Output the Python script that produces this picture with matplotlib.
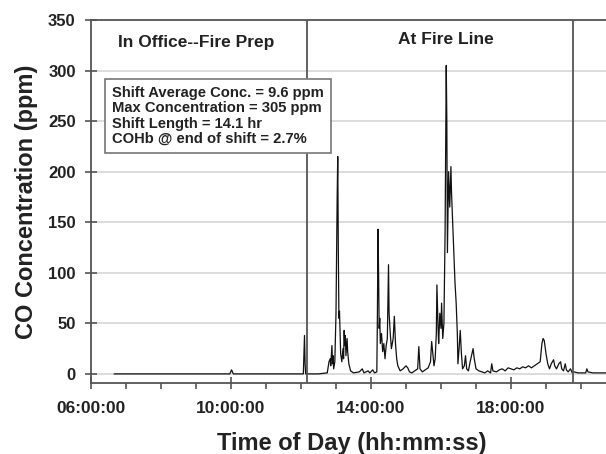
import pandas as pd
import matplotlib.pyplot as plt
import matplotlib.dates as mdates
from matplotlib.ticker import MultipleLocator

plt.rcParams['font.family'] = ['Liberation Sans', 'DejaVu Sans']
plt.rcParams['font.weight'] = 'bold'

# CO readings (time of day, ppm)
times = [
    "06:40", "07:30", "08:30", "09:30", "09:58", "10:01", "10:04", "11:00",
    "12:00", "12:04", "12:05", "12:06", "12:07", "12:08", "12:30", "12:45",
    "12:48", "12:50", "12:51", "12:53", "12:54", "12:55", "12:56", "12:58",
    "13:00", "13:02", "13:03", "13:04", "13:05", "13:06", "13:07", "13:08",
    "13:10", "13:12", "13:13", "13:14", "13:15", "13:16", "13:17", "13:19",
    "13:20", "13:22", "13:25", "13:30", "13:40", "13:45", "13:48", "13:55",
    "13:58", "14:03", "14:06", "14:10", "14:11", "14:12", "14:13", "14:14",
    "14:15", "14:16", "14:18", "14:20", "14:22", "14:24", "14:26", "14:28",
    "14:30", "14:31", "14:33", "14:35", "14:38", "14:40", "14:42", "14:44",
    "14:46", "14:50", "14:55", "15:00", "15:03", "15:06", "15:10", "15:15",
    "15:20", "15:22", "15:24", "15:28", "15:33", "15:38", "15:42", "15:44",
    "15:46", "15:48", "15:50", "15:52", "15:53", "15:55", "15:56", "15:58",
    "16:00", "16:01", "16:03", "16:05", "16:07", "16:09", "16:10", "16:11",
    "16:13", "16:15", "16:17", "16:18", "16:20", "16:22", "16:24", "16:26",
    "16:28", "16:29", "16:31", "16:33", "16:35", "16:37", "16:40", "16:42",
    "16:44", "16:47", "16:50", "16:55", "16:57", "17:00", "17:05", "17:10",
    "17:15", "17:20", "17:25", "17:27", "17:29", "17:35", "17:40", "17:45",
    "17:50", "17:55", "18:00", "18:05", "18:10", "18:15", "18:20", "18:25",
    "18:30", "18:35", "18:40", "18:45", "18:50", "18:53", "18:55", "18:57",
    "19:00", "19:03", "19:06", "19:09", "19:13", "19:15", "19:18", "19:22",
    "19:25", "19:27", "19:30", "19:33", "19:35", "19:38", "19:42", "19:45",
    "19:48", "19:55", "20:00", "20:08", "20:10", "20:12", "20:20", "20:30",
    "20:43",
]
co_ppm = [
    0, 0, 0, 0, 0, 4, 0, 0,
    0, 0, 20, 38, 10, 0, 0, 1,
    12, 15, 8, 28, 10, 18, 5, 12,
    60, 175, 215, 120, 55, 62, 40, 20,
    12, 25, 15, 43, 28, 38, 18, 35,
    22, 10, 3, 1, 2, 5, 1, 3,
    1, 4, 1, 2, 60, 143, 100, 45,
    55, 30, 40, 22, 30, 15, 28, 35,
    108, 60, 40, 25, 35, 57, 30, 15,
    8, 3, 5, 8, 6, 2, 1, 3,
    5, 27, 5, 2, 4, 6, 12, 32,
    20, 8, 15, 40, 88, 45, 30, 60,
    45, 70, 35, 50, 140, 305, 250, 120,
    200, 165, 205, 180, 150, 120, 90, 70,
    40, 10, 25, 43, 20, 5, 8, 18,
    5, 3, 12, 25, 15, 5, 3, 2,
    1, 3, 1, 10, 3, 2, 4, 5,
    3, 6, 5, 4, 6, 5, 7, 6,
    8, 6, 8, 10, 12, 30, 35, 33,
    20, 10, 5, 10, 14, 8, 5, 10,
    12, 5, 3, 10, 4, 2, 5, 1,
    2, 1, 1, 1, 5, 2, 1, 1,
    1,
]

phase_marks = ["12:10", "19:46"]
phase_labels = ["In Office--Fire Prep", "At Fire Line"]
stats_text = ("Shift Average Conc. = 9.6 ppm\n"
              "Max Concentration = 305 ppm\n"
              "Shift Length = 14.1 hr\n"
              "COHb @ end of shift = 2.7%")

day = "2000-01-01 "
t = pd.to_datetime([day + s for s in times])
marks = pd.to_datetime([day + s for s in phase_marks])

fig = plt.figure(figsize=(6.06, 4.54), dpi=100)
ax = fig.add_axes([91 / 606, 71 / 454, 525 / 606, 363 / 454])

ax.plot(t, co_ppm, color='#111111', lw=0.9, zorder=3)
for m in marks:
    ax.axvline(m, color='#555555', lw=1.3, zorder=4)

ax.set_xlim(pd.Timestamp(day + "06:00"), pd.Timestamp(day + "21:00"))
ax.set_ylim(-9, 350)
ax.yaxis.set_major_locator(MultipleLocator(50))
ax.grid(axis='y', color='#d9d9d9', lw=1.3, zorder=0)
ax.set_axisbelow(True)

ax.xaxis.set_major_locator(mdates.HourLocator(byhour=[6, 10, 14, 18]))
ax.xaxis.set_minor_locator(mdates.HourLocator(interval=1))
ax.xaxis.set_major_formatter(mdates.DateFormatter('%H:%M:%S'))

for side in ['left', 'bottom', 'top', 'right']:
    ax.spines[side].set_color('#555555')
    ax.spines[side].set_linewidth(1.3)

ax.tick_params(axis='both', which='major', direction='inout', length=8,
               width=1.2, color='#555555', labelcolor='#222222')
ax.tick_params(axis='x', which='major', pad=9, labelsize=12.5)
ax.tick_params(axis='y', which='major', pad=7, labelsize=12)
ax.tick_params(axis='x', which='minor', direction='out', length=4,
               width=1.2, color='#555555')
for lab in ax.get_xticklabels() + ax.get_yticklabels():
    lab.set_fontweight('bold')

ax.set_xlabel("Time of Day (hh:mm:ss)", fontsize=17, fontweight='bold',
              color='#222222', va='center')
ax.xaxis.set_label_coords(0.497, -0.167)
ax.set_ylabel("CO Concentration (ppm)", fontsize=17, fontweight='bold',
              color='#222222', va='center')
ax.yaxis.set_label_coords(-0.122, 0.5)

fig.text(196 / 606, 1 - 42 / 454, phase_labels[0], ha='center', va='center',
         fontsize=12.5, fontweight='bold', color='#222222')
fig.text(446 / 606, 1 - 40 / 454, phase_labels[1], ha='center', va='center',
         fontsize=12.5, fontweight='bold', color='#222222')

fig.text(112 / 606, 1 - 116 / 454, stats_text, ha='left', va='center',
         fontsize=10.6, fontweight='bold', color='#222222', linespacing=1.12,
         bbox=dict(boxstyle='square,pad=0.5', fc='white', ec='#777777', lw=1.2))

fig.savefig('out.png', dpi=100)
